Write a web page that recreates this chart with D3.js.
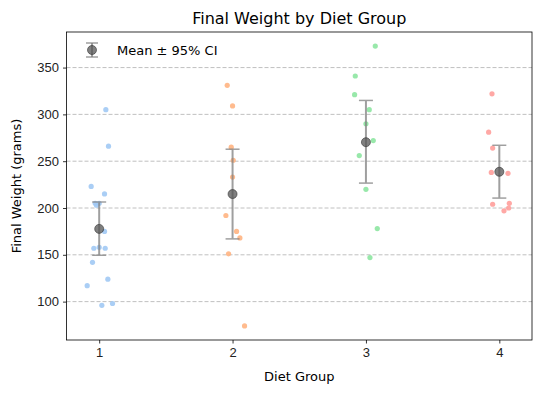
<!DOCTYPE html>
<html>
<head>
<meta charset="utf-8">
<script src="https://cdn.jsdelivr.net/npm/d3@7"></script>
<style>
  body { margin: 0; background: #fff; }
  svg { font-family: "DejaVu Sans", sans-serif; }
</style>
</head>
<body>
<div id="chart"></div>
<script>
/*
    Chart data: final weights per diet group,
    with the horizontal jitter of every point (in category units)
*/
var groups = [1, 2, 3, 4];
var weights1 = [305, 266, 223, 215, 205, 205, 203, 175, 157, 157, 158, 142, 124, 117, 98, 96];
var jitter1 = [0.05, 0.07, -0.06, 0.04, -0.03, 0.0, -0.02, 0.04, -0.04, 0.045, 0.0, -0.05, 0.065, -0.09, 0.10, 0.02];
var weights2 = [331, 309, 265, 251, 233, 192, 175, 168, 151, 74];
var jitter2 = [-0.04, 0.0, -0.01, 0.005, 0.0, -0.05, 0.03, 0.055, -0.03, 0.09];
var weights3 = [373, 341, 321, 305, 290, 272, 256, 220, 178, 147];
var jitter3 = [0.07, -0.08, -0.085, 0.025, 0.0, 0.055, -0.05, 0.0, 0.085, 0.03];
var weights4 = [322, 281, 264, 238, 237, 204, 205, 200, 197];
var jitter4 = [-0.055, -0.08, -0.05, -0.06, 0.065, -0.05, 0.075, 0.07, 0.035];
var groupMeans = [177.7, 214.9, 270.3, 238.7];
var ciLow = [149.5, 167.0, 226.6, 210.6];
var ciHigh = [206.4, 262.8, 314.9, 267.0];
var yTicks = [100, 150, 200, 250, 300, 350];
var colors = ["#a1c9f4", "#ffb482", "#8de5a1", "#ff9f9b"];

/*
    Figure dimensions
*/
var realW = 540, realH = 393,
    margin = { top: 32, right: 8, bottom: 53, left: 66.5 },
    w = realW - margin.left - margin.right,
    h = realH - margin.top - margin.bottom;

var svg = d3.select("#chart")
    .append("svg")
    .attr("width", realW)
    .attr("height", realH);

var g = svg.append("g")
    .attr("transform", "translate(" + margin.left + "," + margin.top + ")");

var xScale = d3.scaleLinear().domain([0.755, 4.245]).range([0, w]);
var yScale = d3.scaleLinear().domain([59, 388]).range([h, 0]);

/*
    Dashed horizontal grid
*/
g.append("g")
    .selectAll("line")
    .data(yTicks)
    .enter()
    .append("line")
    .attr("x1", 0)
    .attr("x2", w)
    .attr("y1", function (d) { return yScale(d); })
    .attr("y2", function (d) { return yScale(d); })
    .style("stroke", "#b0b0b0")
    .style("stroke-width", 0.8)
    .style("stroke-dasharray", "4,2");

/*
    Jittered points
*/
var allWeights = [weights1, weights2, weights3, weights4],
    allJitter = [jitter1, jitter2, jitter3, jitter4],
    points = [];
for (var i = 0; i < groups.length; i++) {
    for (var j = 0; j < allWeights[i].length; j++) {
        points.push({ group: groups[i], value: allWeights[i][j], dx: allJitter[i][j], color: colors[i] });
    }
}

g.append("g")
    .selectAll("circle")
    .data(points)
    .enter()
    .append("circle")
    .attr("cx", function (d) { return xScale(d.group + d.dx); })
    .attr("cy", function (d) { return yScale(d.value); })
    .attr("r", 2.6)
    .style("fill", function (d) { return d.color; })
    .style("opacity", 0.9);

/*
    Mean markers with 95% CI error bars
*/
var stats = groups.map(function (gr, i) {
    return { group: gr, mean: groupMeans[i], lo: ciLow[i], hi: ciHigh[i] };
});

var err = g.append("g")
    .selectAll("g")
    .data(stats)
    .enter()
    .append("g")
    .style("opacity", 0.75);

err.append("line")
    .attr("x1", function (d) { return xScale(d.group); })
    .attr("x2", function (d) { return xScale(d.group); })
    .attr("y1", function (d) { return yScale(d.lo); })
    .attr("y2", function (d) { return yScale(d.hi); })
    .style("stroke", "#808080")
    .style("stroke-width", 2);

["lo", "hi"].forEach(function (k) {
    err.append("line")
        .attr("x1", function (d) { return xScale(d.group) - 7; })
        .attr("x2", function (d) { return xScale(d.group) + 7; })
        .attr("y1", function (d) { return yScale(d[k]); })
        .attr("y2", function (d) { return yScale(d[k]); })
        .style("stroke", "#808080")
        .style("stroke-width", 1.5);
});

g.append("g")
    .selectAll("circle")
    .data(stats)
    .enter()
    .append("circle")
    .attr("cx", function (d) { return xScale(d.group); })
    .attr("cy", function (d) { return yScale(d.mean); })
    .attr("r", 4.5)
    .style("fill", "#555")
    .style("fill-opacity", 0.75)
    .style("stroke", "#333")
    .style("stroke-opacity", 0.6)
    .style("stroke-width", 1);

/*
    Axes
*/
var xAxis = d3.axisBottom(xScale).tickValues(groups).tickFormat(d3.format("d")).tickSizeOuter(0).tickSize(3.5).tickPadding(4);
var yAxis = d3.axisLeft(yScale).tickValues(yTicks).tickSizeOuter(0).tickSize(3.5).tickPadding(4);

g.append("g")
    .attr("transform", "translate(0," + h + ")")
    .call(xAxis);
g.append("g")
    .call(yAxis);

g.selectAll(".tick text")
    .style("font-size", "13px")
    .style("fill", "#222");
g.selectAll(".tick line")
    .style("stroke", "#000")
    .style("stroke-width", 0.8);
g.selectAll(".domain").remove();

g.append("rect")
    .attr("width", w)
    .attr("height", h)
    .style("fill", "none")
    .style("stroke", "#000")
    .style("stroke-width", 0.8);

/*
    Title and labels
*/
svg.append("text")
    .attr("x", margin.left + w / 2)
    .attr("y", 24)
    .attr("text-anchor", "middle")
    .style("font-size", "16px")
    .text("Final Weight by Diet Group");

svg.append("text")
    .attr("x", margin.left + w / 2)
    .attr("y", 381)
    .attr("text-anchor", "middle")
    .style("font-size", "13px")
    .text("Diet Group");

svg.append("text")
    .attr("transform", "translate(21," + (margin.top + h / 2) + ") rotate(-90)")
    .attr("text-anchor", "middle")
    .style("font-size", "13px")
    .text("Final Weight (grams)");

/*
    Legend
*/
var leg = svg.append("g").attr("transform", "translate(92,50)");
leg.append("line")
    .attr("x1", 0).attr("x2", 0).attr("y1", -7).attr("y2", 7)
    .style("stroke", "#808080").style("stroke-width", 2).style("opacity", 0.75);
[-7, 7].forEach(function (dy) {
    leg.append("line")
        .attr("x1", -6).attr("x2", 6).attr("y1", dy).attr("y2", dy)
        .style("stroke", "#808080").style("stroke-width", 1.5).style("opacity", 0.75);
});
leg.append("circle")
    .attr("r", 4.5)
    .style("fill", "#555").style("fill-opacity", 0.75)
    .style("stroke", "#333").style("stroke-opacity", 0.6);
leg.append("text")
    .attr("x", 25)
    .attr("y", 5)
    .style("font-size", "13px")
    .text("Mean \u00b1 95% CI");
</script>
</body>
</html>
